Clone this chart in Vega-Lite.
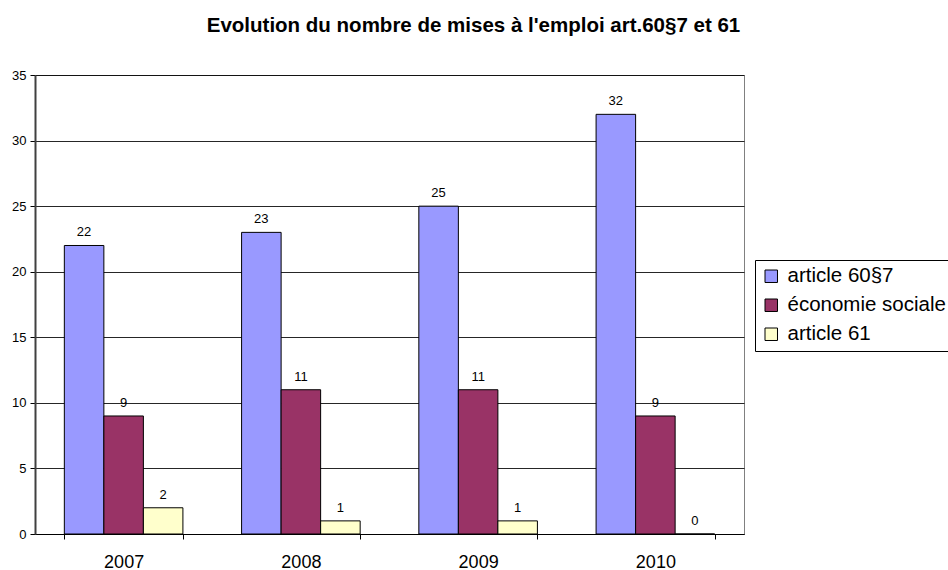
{
  "$schema": "https://vega.github.io/schema/vega-lite/v6.json",
  "width": 709,
  "height": 459,
  "autosize": {"type": "none"},
  "padding": {"left": 35, "top": 75, "right": 204, "bottom": 36},
  "background": "white",
  "title": {
    "text": "Evolution du nombre de mises à l'emploi art.60§7 et 61",
    "font": "Liberation Sans",
    "fontSize": 20.5,
    "fontWeight": "bold",
    "color": "black",
    "anchor": "middle",
    "frame": "group",
    "baseline": "alphabetic",
    "dx": 84,
    "offset": 17
  },
  "config": {
    "view": {"stroke": "#808080", "strokeWidth": 1},
    "font": "Liberation Sans"
  },
  "data": {
    "values": [
      {"annee": "2007", "serie": "article 60§7", "valeur": 22},
      {"annee": "2007", "serie": "économie sociale", "valeur": 9},
      {"annee": "2007", "serie": "article 61", "valeur": 2},
      {"annee": "2008", "serie": "article 60§7", "valeur": 23},
      {"annee": "2008", "serie": "économie sociale", "valeur": 11},
      {"annee": "2008", "serie": "article 61", "valeur": 1},
      {"annee": "2009", "serie": "article 60§7", "valeur": 25},
      {"annee": "2009", "serie": "économie sociale", "valeur": 11},
      {"annee": "2009", "serie": "article 61", "valeur": 1},
      {"annee": "2010", "serie": "article 60§7", "valeur": 32},
      {"annee": "2010", "serie": "économie sociale", "valeur": 9},
      {"annee": "2010", "serie": "article 61", "valeur": 0}
    ]
  },
  "encoding": {
    "x": {
      "field": "annee",
      "type": "nominal",
      "scale": {"paddingInner": 0.331, "paddingOuter": 0.1655},
      "axis": {
        "title": null,
        "labelAngle": 0,
        "labelFontSize": 18,
        "labelColor": "black",
        "labelPadding": 14,
        "tickBand": "extent",
        "tickSize": 5,
        "tickColor": "black",
        "domainColor": "black",
        "grid": false
      }
    },
    "xOffset": {
      "field": "serie",
      "type": "nominal",
      "sort": ["article 60§7", "économie sociale", "article 61"],
      "scale": {"paddingInner": 0, "paddingOuter": 0}
    },
    "y": {
      "field": "valeur",
      "type": "quantitative",
      "scale": {"domain": [0, 35], "nice": false},
      "axis": {
        "title": null,
        "values": [0, 5, 10, 15, 20, 25, 30, 35],
        "labelFontSize": 13,
        "labelColor": "black",
        "tickSize": 5,
        "tickColor": "black",
        "domainColor": "#404040",
        "domainWidth": 2,
        "gridColor": "black",
        "gridOpacity": 0.85,
        "labelPadding": 4
      }
    }
  },
  "layer": [
    {
      "mark": {"type": "bar", "stroke": "black", "strokeWidth": 1},
      "encoding": {
        "color": {
          "field": "serie",
          "type": "nominal",
          "sort": ["article 60§7", "économie sociale", "article 61"],
          "scale": {
            "domain": ["article 60§7", "économie sociale", "article 61"],
            "range": ["#9999FF", "#993366", "#FFFFCC"]
          },
          "legend": {
            "title": null,
            "orient": "none",
            "legendX": 720,
            "legendY": 185,
            "symbolType": "square",
            "symbolSize": 156,
            "symbolStrokeColor": "black",
            "symbolStrokeWidth": 1,
            "labelFontSize": 20.5,
            "labelColor": "black",
            "labelOffset": 6,
            "rowPadding": 8,
            "strokeColor": "black",
            "padding": 6,
            "fillColor": "white"
          }
        }
      }
    },
    {
      "mark": {"type": "text", "dy": -9, "baseline": "alphabetic", "fontSize": 13, "color": "black"},
      "encoding": {"text": {"field": "valeur", "type": "quantitative"}}
    }
  ]
}
